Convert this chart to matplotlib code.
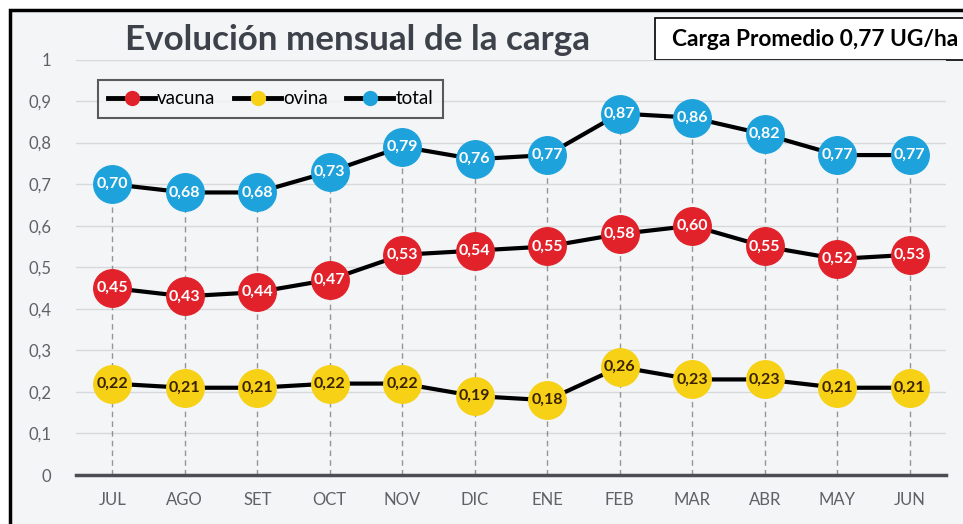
import matplotlib.pyplot as plt
from matplotlib.patches import Rectangle

months = ["JUL", "AGO", "SET", "OCT", "NOV", "DIC", "ENE", "FEB", "MAR", "ABR", "MAY", "JUN"]
vacuna = [0.45, 0.43, 0.44, 0.47, 0.53, 0.54, 0.55, 0.58, 0.60, 0.55, 0.52, 0.53]
ovina = [0.22, 0.21, 0.21, 0.22, 0.22, 0.19, 0.18, 0.26, 0.23, 0.23, 0.21, 0.21]
total = [0.70, 0.68, 0.68, 0.73, 0.79, 0.76, 0.77, 0.87, 0.86, 0.82, 0.77, 0.77]
yticks = [0, 0.1, 0.2, 0.3, 0.4, 0.5, 0.6, 0.7, 0.8, 0.9, 1.0]

bg = "#f3f5f7"
fig = plt.figure(figsize=(9.63, 5.24), dpi=100)
fig.patch.set_facecolor("white")

# chart background + black frame (cut off right/bottom)
fig.add_artist(Rectangle((10 / 963, -0.05), 1.1, 1 - 10 / 524 + 0.05,
                         transform=fig.transFigure, facecolor=bg,
                         edgecolor="black", linewidth=2.5, zorder=-5))

ax = fig.add_axes([76 / 963, 1 - 475 / 524, 870 / 963, 415.5 / 524])
ax.set_facecolor("none")
ax.set_zorder(2)
x = list(range(len(months)))

for xi, t in zip(x, total):
    ax.plot([xi, xi], [0, t], color="#555555", lw=1, ls=(0, (4, 3)), alpha=0.6, zorder=1)

series = [
    ("vacuna", vacuna, "#e1222b", "white"),
    ("ovina", ovina, "#f7d116", "#3a2200"),
    ("total", total, "#1ea2dc", "white"),
]
for name, vals, col, tcol in series:
    ax.plot(x, vals, color="black", lw=3, marker="o", markersize=27,
            markerfacecolor=col, markeredgecolor=col, zorder=3, label=name)
    for xi, v in zip(x, vals):
        ax.text(xi, v, f"{v:.2f}".replace(".", ","), ha="center", va="center",
                fontsize=11.5, fontweight="bold", color=tcol, family="Lato", zorder=4)

ax.set_xlim(-0.5, 11.5)
ax.set_ylim(0, 1)
ax.set_yticks(yticks)
ax.set_yticklabels([f"{v:g}".replace(".", ",") for v in yticks])
ax.set_xticks(x)
ax.set_xticklabels(months)
ax.tick_params(length=0, colors="#5f6166", labelsize=12, pad=12)
ax.tick_params(axis="y", pad=18)
for lab in ax.get_xticklabels() + ax.get_yticklabels():
    lab.set_family("Lato")
ax.grid(axis="y", color="#d6d8da", lw=1)
for s in ["top", "right", "left"]:
    ax.spines[s].set_visible(False)
ax.spines["bottom"].set_color("#4a4d52")
ax.spines["bottom"].set_linewidth(2.5)
ax.set_axisbelow(True)

# legend with small markers
handles = [plt.Line2D([], [], color="black", lw=3.5, marker="o", markersize=10,
                      markerfacecolor=c, markeredgecolor=c) for _, _, c, _ in series]
leg = ax.legend(handles, [s[0] for s in series], loc="upper left",
                bbox_to_anchor=(22 / 870, 395 / 415.5), borderaxespad=0, ncol=3,
                frameon=True, fancybox=False, edgecolor="#333333", facecolor=bg,
                prop={"family": "Lato", "size": 13.5}, handlelength=2.5,
                handletextpad=0.1, columnspacing=1.0, borderpad=0.55)
leg.get_frame().set_linewidth(1.5)

fig.text(125 / 963, 1 - 40 / 524, "Evolución mensual de la carga", fontsize=25.2,
         fontweight="bold", color="#3d424a", family="Lato", va="center", ha="left")

fig.add_artist(Rectangle((655 / 963, 1 - 60 / 524), 0.4, 42 / 524,
                         transform=fig.transFigure, facecolor="white",
                         edgecolor="black", linewidth=1.2, zorder=1))
fig.text(672 / 963, 1 - 40 / 524, "Carga Promedio 0,77 UG/ha", fontsize=16.4,
         fontweight="bold", color="black", family="Lato", va="center", ha="left",
         zorder=3)

fig.savefig("out.png", dpi=100)
